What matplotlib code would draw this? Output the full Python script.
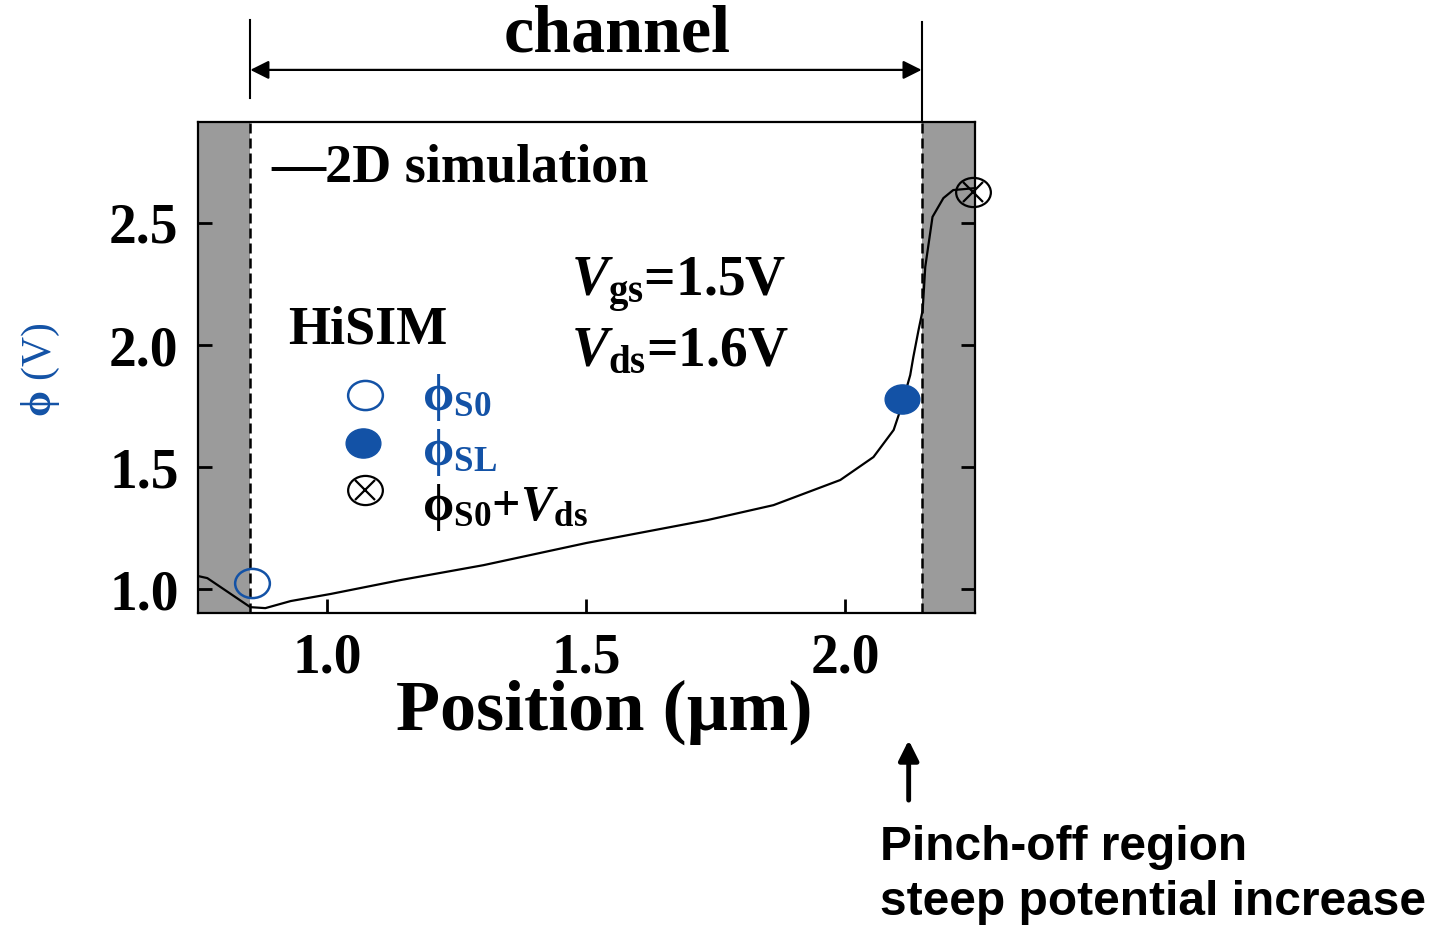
import matplotlib
matplotlib.use("Agg")
import matplotlib.pyplot as plt
from matplotlib.path import Path
from matplotlib.transforms import Affine2D, blended_transform_factory

plt.rcParams["font.family"] = "Liberation Serif"
plt.rcParams["font.weight"] = "bold"
plt.rcParams["mathtext.fontset"] = "custom"
plt.rcParams["mathtext.rm"] = "Liberation Serif"
plt.rcParams["mathtext.it"] = "Liberation Serif:italic:bold"
plt.rcParams["mathtext.bf"] = "Liberation Serif:bold"

# --- DATA ---
# 2D device simulation: surface potential along the channel
position = [0.751, 0.768, 0.851, 0.880, 0.929, 1.006, 1.141, 1.301, 1.500,
            1.734, 1.861, 1.990, 2.054, 2.093, 2.106, 2.125, 2.131, 2.141,
            2.149, 2.154, 2.168, 2.189, 2.208, 2.251]
potential = [1.053, 1.045, 0.926, 0.922, 0.951, 0.980, 1.037, 1.098, 1.189,
             1.283, 1.344, 1.447, 1.541, 1.652, 1.734, 1.877, 1.951, 2.061,
             2.143, 2.320, 2.525, 2.602, 2.635, 2.643]

# HiSIM surface potentials (V)
phi_s0 = 1.025
phi_sl = 1.78
vds = 1.6
x_s0 = 0.855
x_sl = 2.110
x_drain = 2.247

# source / drain junction edges (um)
source_edge = 0.851
drain_edge = 2.147
x_range = (0.75, 2.25)
y_range = (0.902, 2.914)

blue = "#1352a6"
gray = "#9b9b9b"

# slightly flattened circle for the HiSIM markers
oval = Path.unit_circle().transformed(Affine2D().scale(1.0, 0.84))

fig = plt.figure(figsize=(14.41, 9.26), dpi=100)
ax = fig.add_axes([0.1374, 0.338, 0.5392, 0.5303])

# source and drain regions
ax.axvspan(x_range[0], source_edge, color=gray, lw=0, zorder=0)
ax.axvspan(drain_edge, x_range[1], color=gray, lw=0, zorder=0)
ax.axvline(source_edge, color="k", lw=1.8, ls=(0, (4, 2)), zorder=1)
ax.axvline(drain_edge, color="k", lw=1.8, ls=(0, (4, 2)), zorder=1)

ax.plot(position, potential, color="k", lw=1.6, zorder=2)

ax.plot(x_s0, phi_s0, marker=oval, ms=25, mfc="none", mec=blue, mew=1.8, zorder=3)
ax.plot(x_sl, phi_sl, marker=oval, ms=25, color=blue, zorder=3)
ax.plot(x_drain, phi_s0 + vds, marker=oval, ms=25, mfc="none", mec="k", mew=1.6,
        clip_on=False, zorder=3)
ax.plot(x_drain, phi_s0 + vds, marker="x", ms=15, color="k", mew=1.6,
        clip_on=False, zorder=3)

ax.set_xlim(*x_range)
ax.set_ylim(*y_range)
ax.set_xticks([1.0, 1.5, 2.0])
ax.set_yticks([1.0, 1.5, 2.0, 2.5])
ax.tick_params(direction="in", length=10, width=2, right=True, labelsize=40)
ax.tick_params(axis="x", pad=14)
ax.tick_params(axis="y", pad=14)
for s in ax.spines.values():
    s.set_linewidth(1.6)

ax.set_xlabel("Position (\u00b5m)", fontsize=52, fontweight="bold")
ax.xaxis.set_label_coords(0.523, -0.136)
ax.set_ylabel(r"$\mathrm{\phi}$ (V)", fontsize=30, color=blue, fontweight="normal")
ax.yaxis.set_label_coords(-0.175, 0.495)

# in-plot labels
ax.text(0.095, 0.906, "\u20142D simulation", transform=ax.transAxes,
        fontsize=39, va="center")
ax.text(0.116, 0.576, "HiSIM", transform=ax.transAxes, fontsize=39, va="center")
ax.text(0.48, 0.668, r"$V_{\mathbf{gs}}$=1.5V", transform=ax.transAxes,
        fontsize=40, va="center")
ax.text(0.48, 0.532, r"$V_{\mathbf{ds}}$=1.6V", transform=ax.transAxes,
        fontsize=40, va="center")

# marker key
key_y = [0.444, 0.346, 0.251]
label_y = [0.438, 0.326, 0.214]
ax.plot(0.215, key_y[0], marker=oval, ms=25, mfc="none", mec=blue, mew=1.8,
        transform=ax.transAxes)
ax.plot(0.212, key_y[1], marker=oval, ms=25, color=blue, transform=ax.transAxes)
ax.plot(0.215, key_y[2], marker=oval, ms=25, mfc="none", mec="k", mew=1.6,
        transform=ax.transAxes)
ax.plot(0.215, key_y[2], marker="x", ms=15, color="k", mew=1.6,
        transform=ax.transAxes)
ax.text(0.288, label_y[0], r"$\mathrm{\phi}_{\mathbf{S0}}$", transform=ax.transAxes,
        fontsize=36, color=blue, va="center")
ax.text(0.288, label_y[1], r"$\mathrm{\phi}_{\mathbf{SL}}$", transform=ax.transAxes,
        fontsize=36, color=blue, va="center")
ax.text(0.288, label_y[2], r"$\mathrm{\phi}_{\mathbf{S0}}$+$V_{\mathbf{ds}}$",
        transform=ax.transAxes, fontsize=36, va="center")

# channel length marker above the axes
trans = blended_transform_factory(ax.transData, ax.transAxes)
ax.plot([source_edge, source_edge], [1.049, 1.208], color="k", lw=1.5,
        transform=trans, clip_on=False)
ax.plot([drain_edge, drain_edge], [1.0, 1.204], color="k", lw=1.5,
        transform=trans, clip_on=False)
ax.annotate("", xy=(source_edge, 1.106), xytext=(drain_edge, 1.106),
            xycoords=trans, textcoords=trans,
            arrowprops=dict(arrowstyle="<|-|>", color="k", lw=1.6,
                            mutation_scale=28, shrinkA=0, shrinkB=0))
ax.text(1.56, 1.177, "channel", transform=trans, fontsize=49,
        ha="center", va="center")

# pinch-off callout
ax.annotate("", xy=(2.122, -0.259), xytext=(2.122, -0.381),
            xycoords=trans, textcoords=trans,
            arrowprops=dict(arrowstyle="-|>", color="k", lw=3.5,
                            mutation_scale=30, shrinkA=0, shrinkB=0))
fig.text(0.611, 0.0713, "Pinch-off region", fontsize=34.5,
         family="Liberation Sans", fontweight="bold", va="baseline")
fig.text(0.611, 0.0119, "steep potential increase", fontsize=34.5,
         family="Liberation Sans", fontweight="bold", va="baseline")

fig.savefig("out.png", dpi=100)
